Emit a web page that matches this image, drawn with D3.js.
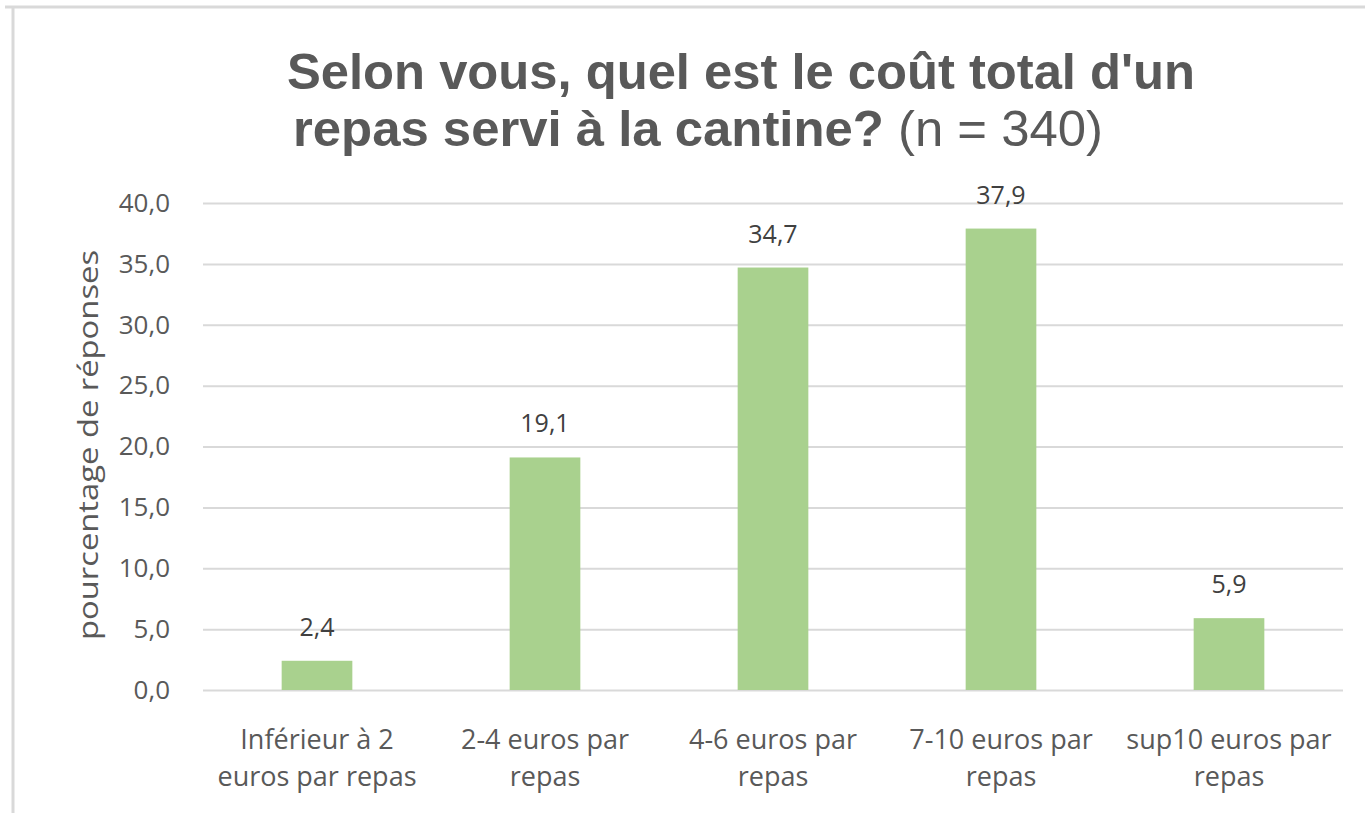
<!DOCTYPE html>
<html>
<head>
<meta charset="utf-8">
<script src="https://cdn.jsdelivr.net/npm/d3@7"></script>
<style>
  body { margin: 0; background: #fff; }
  svg { display: block; }
</style>
</head>
<body>
<div id="chart"></div>
<script>
// Data
const categories = [
  ['Inférieur à 2', 'euros par repas'],
  ['2-4 euros par', 'repas'],
  ['4-6 euros par', 'repas'],
  ['7-10 euros par', 'repas'],
  ['sup10 euros par', 'repas']
];
const values = [2.4, 19.1, 34.7, 37.9, 5.9];
const yTicks = [0, 5, 10, 15, 20, 25, 30, 35, 40];

const W = 1365, H = 813;
const margin = { top: 203, right: 22, bottom: 123, left: 203 };
const innerW = W - margin.left - margin.right;
const innerH = H - margin.top - margin.bottom;

const fmt = d => d3.format('.1f')(d).replace('.', ',');

const svg = d3.select('#chart').append('svg')
  .attr('width', W)
  .attr('height', H);

// outer frame (top + left edges visible)
svg.append('line')
  .attr('x1', 5).attr('x2', W).attr('y1', 7).attr('y2', 7)
  .attr('stroke', '#d9d9d9').attr('stroke-width', 3);
svg.append('line')
  .attr('x1', 13).attr('x2', 13).attr('y1', 7).attr('y2', H)
  .attr('stroke', '#d9d9d9').attr('stroke-width', 3);

// Title
const title = svg.append('g')
  .attr('font-family', "'Liberation Sans', Arial, sans-serif")
  .attr('fill', '#595959');
title.append('text')
  .attr('x', 287).attr('y', 89)
  .attr('font-size', 50).attr('font-weight', 'bold')
  .attr('textLength', 908).attr('lengthAdjust', 'spacingAndGlyphs')
  .text("Selon vous, quel est le coût total d'un");
const t2 = title.append('text')
  .attr('x', 293).attr('y', 146)
  .attr('font-size', 50)
  .attr('textLength', 810).attr('lengthAdjust', 'spacingAndGlyphs');
t2.append('tspan').attr('font-weight', 'bold').text('repas servi à la cantine? ');
t2.append('tspan').text('(n = 340)');

const g = svg.append('g').attr('transform', `translate(${margin.left},${margin.top})`);

const x = d3.scaleBand()
  .domain(d3.range(values.length))
  .range([0, innerW])
  .paddingInner(0.69)
  .paddingOuter(0.345);

const y = d3.scaleLinear().domain([0, 40]).range([innerH, 0]);

// gridlines
g.append('g')
  .call(d3.axisLeft(y).tickValues(yTicks).tickSize(-innerW).tickFormat(''))
  .call(s => s.select('.domain').remove())
  .call(s => s.selectAll('line').attr('stroke', '#d9d9d9').attr('stroke-width', 2));

// y tick labels
g.append('g')
  .call(d3.axisLeft(y).tickValues(yTicks).tickSize(0).tickPadding(33).tickFormat(fmt))
  .call(s => s.select('.domain').remove())
  .call(s => s.selectAll('text')
    .attr('font-family', "'Open Sans', sans-serif")
    .attr('font-size', 26)
    .attr('fill', '#595959'));

// bars
g.selectAll('.bar')
  .data(values)
  .enter()
  .append('rect')
  .attr('class', 'bar')
  .attr('x', (d, i) => x(i))
  .attr('width', x.bandwidth())
  .attr('y', d => y(d))
  .attr('height', d => innerH - y(d))
  .attr('fill', '#a9d18e');

// value labels
g.selectAll('.val')
  .data(values)
  .enter()
  .append('text')
  .attr('class', 'val')
  .attr('x', (d, i) => x(i) + x.bandwidth() / 2)
  .attr('y', d => y(d) - 25)
  .attr('text-anchor', 'middle')
  .attr('font-family', "'Open Sans', sans-serif")
  .attr('font-size', 25)
  .attr('fill', '#404040')
  .text(fmt);

// x category labels
const xl = g.selectAll('.xl')
  .data(categories)
  .enter()
  .append('text')
  .attr('class', 'xl')
  .attr('text-anchor', 'middle')
  .attr('font-family', "'Open Sans', sans-serif")
  .attr('font-size', 27)
  .attr('fill', '#595959');
xl.each(function (lines, i) {
  const cx = x(i) + x.bandwidth() / 2;
  lines.forEach((ln, j) => {
    d3.select(this).append('tspan')
      .attr('x', cx)
      .attr('y', innerH + 59 + j * 37)
      .text(ln);
  });
});

// y axis title
svg.append('text')
  .attr('transform', 'translate(98,445) rotate(-90)')
  .attr('text-anchor', 'middle')
  .attr('font-family', "'Open Sans', sans-serif")
  .attr('font-size', 28)
  .attr('textLength', 390).attr('lengthAdjust', 'spacingAndGlyphs')
  .attr('fill', '#595959')
  .text('pourcentage de réponses');
</script>
</body>
</html>
